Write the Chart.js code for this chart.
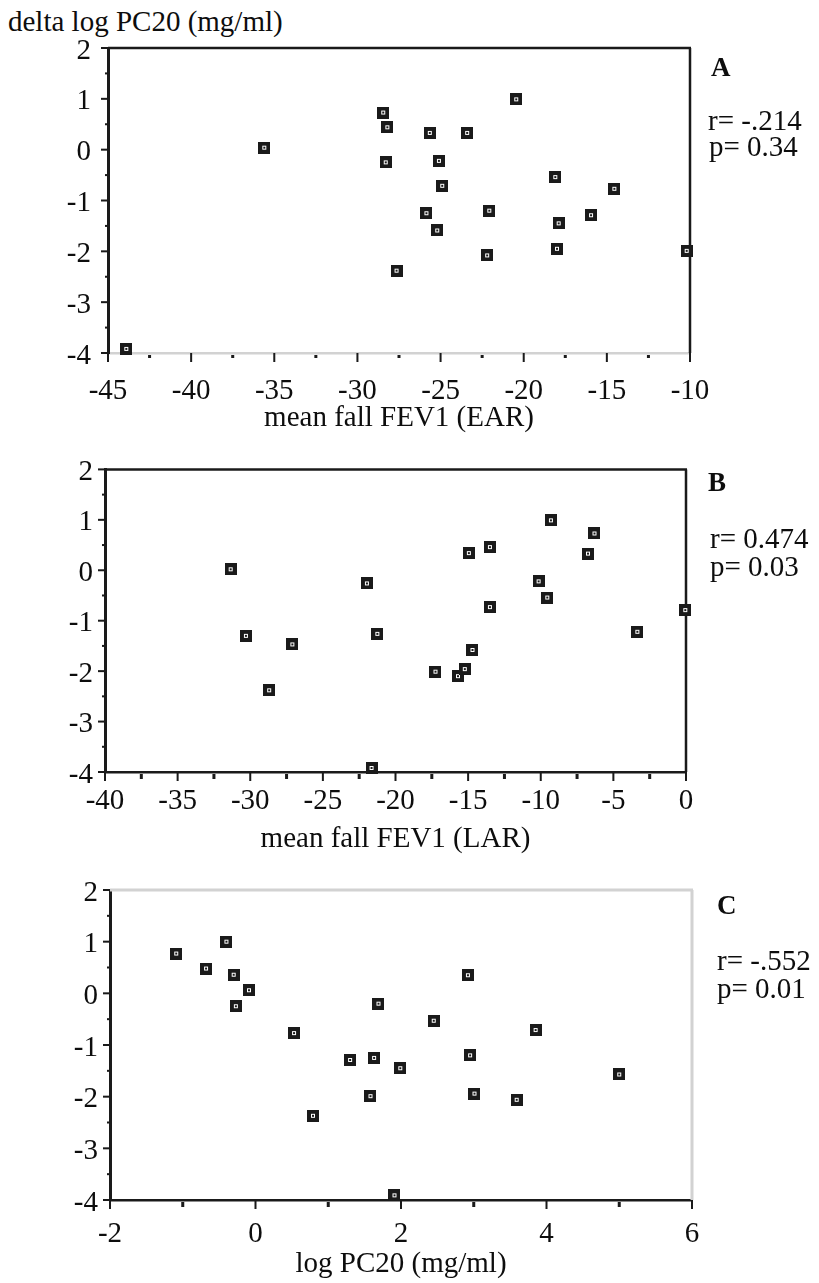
<!DOCTYPE html>
<html>
<head>
<meta charset="utf-8">
<title>delta log PC20 vs mean fall FEV1</title>
<script src="https://cdn.jsdelivr.net/npm/chart.js@4.4.0/dist/chart.umd.min.js"></script>
<style>
    html, body { margin: 0; padding: 0; background: #fff; }
    body { position: relative; width: 819px; height: 1283px; overflow: hidden; font-family: 'Liberation Serif', 'Times New Roman', serif; color: #0d0d0d; }
    canvas { position: absolute; left: 0; }
    .txt { position: absolute; line-height: 1; white-space: nowrap; font-size: 29px; }
    .tag { font-weight: bold; font-size: 27px; }
</style>
</head>
<body>
<div class="txt" style="left:8px; top:7px;">delta log PC20 (mg/ml)</div>

<canvas id="chartA" width="819" height="440" style="top:0px"></canvas>
<canvas id="chartB" width="819" height="420" style="top:440px"></canvas>
<canvas id="chartC" width="819" height="423" style="top:860px"></canvas>

<div class="txt tag" style="left:711px; top:54px;">A</div>
<div class="txt" style="left:708px; top:106px;">r= -.214</div>
<div class="txt" style="left:709px; top:132px;">p= 0.34</div>

<div class="txt tag" style="left:708px; top:469px;">B</div>
<div class="txt" style="left:710px; top:524px;">r= 0.474</div>
<div class="txt" style="left:710px; top:552px;">p= 0.03</div>

<div class="txt tag" style="left:717px; top:892px;">C</div>
<div class="txt" style="left:717px; top:946px;">r= -.552</div>
<div class="txt" style="left:717px; top:974px;">p= 0.01</div>

<script>
// values, one point per subject
const fallEAR    = [-43.9, -35.6, -28.45, -28.2, -28.3, -27.65, -25.65, -23.4, -25.1, -24.9, -25.85, -25.2, -22.07, -22.2, -20.45, -18.1, -17.9, -18.0, -15.95, -14.55, -10.2];
const deltaEAR   = [-3.92, 0.04, 0.73, 0.44, -0.25, -2.38, 0.33, 0.33, -0.22, -0.71, -1.25, -1.59, -1.2, -2.08, 0.99, -0.54, -1.45, -1.95, -1.29, -0.77, -1.99];

const fallLAR    = [-31.35, -30.3, -27.1, -28.7, -21.97, -21.25, -21.65, -17.25, -15.7, -15.23, -14.7, -14.95, -13.5, -13.5, -10.15, -9.55, -9.3, -6.75, -6.3, -3.35, -0.05];
const deltaLAR   = [0.02, -1.3, -1.47, -2.38, -0.26, -1.26, -3.92, -2.01, -2.1, -1.96, -1.58, 0.34, 0.46, -0.73, -0.22, -0.54, 0.99, 0.33, 0.73, -1.22, -0.79];

const logPC20    = [-1.09, -0.68, -0.4, -0.3, -0.09, -0.27, 0.53, 0.79, 1.3, 1.63, 1.58, 1.69, 1.99, 1.91, 2.45, 2.92, 2.95, 3.01, 3.59, 3.85, 5.0];
const deltaPC20  = [0.77, 0.48, 1.0, 0.36, 0.06, -0.25, -0.77, -2.37, -1.29, -1.25, -1.99, -0.2, -1.45, -3.91, -0.53, 0.35, -1.2, -1.94, -2.06, -0.71, -1.57];

// tick labels
const yTickLabels    = [-4, -3, -2, -1, 0, 1, 2];
const earTickLabels  = [-45, -40, -35, -30, -25, -20, -15, -10];
const larTickLabels  = [-40, -35, -30, -25, -20, -15, -10, -5, 0];
const pc20TickLabels = [-2, 0, 2, 4, 6];

const INK = '#1a1a1a';
const PALE = '#d2d2d2';
const tickFont = { family: "'Liberation Serif', 'Times New Roman', serif", size: 29 };
const titleFont = { family: "'Liberation Serif', 'Times New Roman', serif", size: 29 };

// black square with a small white ring, like the original plot symbol
function makeMarker() {
    const c = document.createElement('canvas');
    c.width = 12; c.height = 12;
    const g = c.getContext('2d');
    g.fillStyle = INK; g.fillRect(0, 0, 12, 12);
    g.fillStyle = '#fff'; g.fillRect(4, 4, 4, 4);
    g.fillStyle = INK; g.fillRect(5, 5, 2, 2);
    return c;
}
const marker = makeMarker();

// top/right edges of the box plus the outside tick marks
const framePlugin = {
    id: 'frame',
    beforeDatasetsDraw(chart, args, opts) {
        const { ctx, chartArea: a, scales: { x, y } } = chart;
        ctx.save();
        ctx.lineWidth = opts.edgeWidth;
        ctx.strokeStyle = opts.topColor;
        ctx.beginPath(); ctx.moveTo(a.left, a.top); ctx.lineTo(a.right + 1, a.top); ctx.stroke();
        ctx.strokeStyle = opts.rightColor;
        ctx.beginPath(); ctx.moveTo(a.right, a.top); ctx.lineTo(a.right, a.bottom); ctx.stroke();

        ctx.fillStyle = INK;
        x.ticks.forEach(t => {
            const px = x.getPixelForValue(t.value);
            if (t.label !== '') ctx.fillRect(px - 1, a.bottom, 2, 9);
            else ctx.fillRect(px - 1.5, a.bottom + 2, 3, opts.minorLen);
        });
        y.ticks.forEach(t => {
            const py = y.getPixelForValue(t.value);
            if (t.label !== '') ctx.fillRect(a.left - 7, py - 1, 7, 2);
            else ctx.fillRect(a.left - 3, py - 1, 3, 2);
        });
        ctx.restore();
    }
};

function toPoints(xs, ys) {
    return xs.map((v, i) => ({ x: v, y: ys[i] }));
}

function buildPanel(id, p) {
    return new Chart(document.getElementById(id), {
        type: 'scatter',
        data: {
            datasets: [{ data: toPoints(p.xs, p.ys), pointStyle: marker, pointRadius: 6, clip: false }]
        },
        options: {
            responsive: false, animation: false, events: [],
            layout: { padding: { top: p.top, right: p.right, left: 0, bottom: 0 } },
            plugins: { legend: { display: false }, tooltip: { enabled: false }, frame: p.frame },
            scales: {
                x: {
                    type: 'linear', min: p.xMin, max: p.xMax,
                    grid: { display: false, drawTicks: false },
                    border: { color: p.xAxisColor, width: 2.5 },
                    ticks: {
                        stepSize: p.xStep, autoSkip: false, maxRotation: 0, padding: p.xPad,
                        color: '#0d0d0d', font: tickFont,
                        callback: v => p.xLabels.includes(v) ? String(v) : ''
                    },
                    title: { display: true, text: p.xTitle, color: '#0d0d0d', font: titleFont, padding: { top: 0, bottom: p.titlePad } },
                    afterFit: s => { s.height = p.xHeight; }
                },
                y: {
                    type: 'linear', min: -4, max: 2,
                    grid: { display: false, drawTicks: false },
                    border: { color: INK, width: 3 },
                    ticks: {
                        stepSize: 0.5, autoSkip: false, padding: p.yPad, labelOffset: 3,
                        color: '#0d0d0d', font: tickFont,
                        callback: v => yTickLabels.includes(v) ? String(v) : ''
                    },
                    afterFit: s => { s.width = p.yWidth; }
                }
            }
        },
        plugins: [framePlugin]
    });
}

buildPanel('chartA', {
    xs: fallEAR, ys: deltaEAR, xMin: -45, xMax: -10, xStep: 2.5, xLabels: earTickLabels,
    xTitle: 'mean fall FEV1 (EAR)', top: 48, right: 129, yWidth: 108, xHeight: 87,
    xPad: 21, yPad: 17, titlePad: 4, xAxisColor: PALE,
    frame: { topColor: INK, rightColor: INK, edgeWidth: 2.5, minorLen: 3 }
});

buildPanel('chartB', {
    xs: fallLAR, ys: deltaLAR, xMin: -40, xMax: 0, xStep: 2.5, xLabels: larTickLabels,
    xTitle: 'mean fall FEV1 (LAR)', top: 24, right: 133, yWidth: 105, xHeight: 88,
    xPad: 12, yPad: 12, titlePad: 3, xAxisColor: INK,
    frame: { topColor: INK, rightColor: INK, edgeWidth: 2.5, minorLen: 5 }
});

buildPanel('chartC', {
    xs: logPC20, ys: deltaPC20, xMin: -2, xMax: 6, xStep: 1, xLabels: pc20TickLabels,
    xTitle: 'log PC20 (mg/ml)', top: 30, right: 127, yWidth: 110, xHeight: 83,
    xPad: 17, yPad: 12, titlePad: 1, xAxisColor: INK,
    frame: { topColor: PALE, rightColor: PALE, edgeWidth: 3, minorLen: 5 }
});
</script>
</body>
</html>
